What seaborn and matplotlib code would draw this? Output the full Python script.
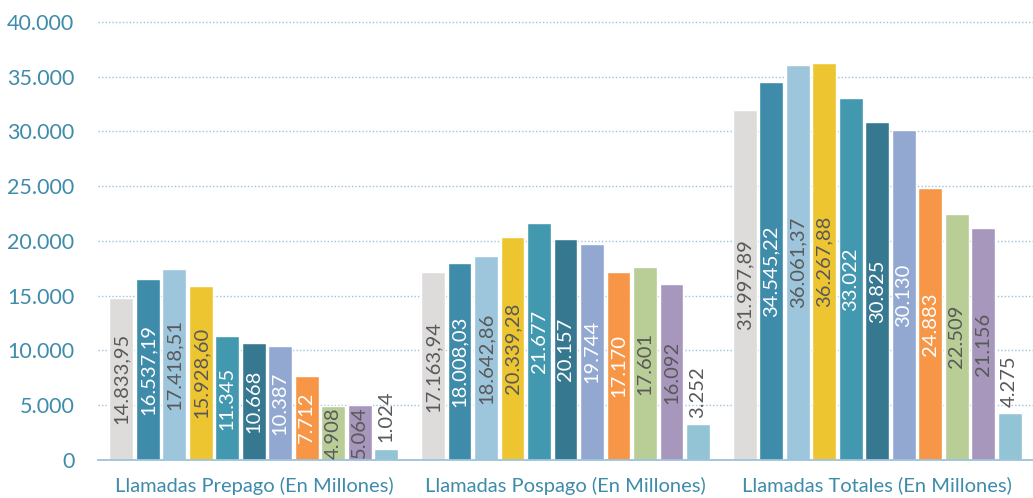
import matplotlib

matplotlib.use("Agg")
import matplotlib.pyplot as plt
import pandas as pd
import seaborn as sns

GROUPS = [
    "Llamadas Prepago (En Millones)",
    "Llamadas Pospago (En Millones)",
    "Llamadas Totales (En Millones)",
]
SERIES = [f"s{i}" for i in range(1, 12)]

prepago = [14833.95, 16537.19, 17418.51, 15928.60, 11345, 10668, 10387, 7712, 4908, 5064, 1024]
pospago = [17163.94, 18008.03, 18642.86, 20339.28, 21677, 20157, 19744, 17170, 17601, 16092, 3252]
totales = [31997.89, 34545.22, 36061.37, 36267.88, 33022, 30825, 30130, 24883, 22509, 21156, 4275]

COLORS = ["#DEDCDB", "#3E8BAA", "#9DC5DC", "#EDC531", "#4298AF", "#377891",
          "#92A8D1", "#F79646", "#B9CD96", "#A797BD", "#92C4D6"]
DARK = "#595959"
LABEL_COLORS = [DARK, "white", DARK, DARK, "white", "white",
                "white", "white", DARK, DARK, DARK]
AXIS_BLUE = "#3E8BAA"
GRID_BLUE = "#9DC3DA"


def fmt(v):
    if v != int(v):
        s = f"{v:,.2f}"
    else:
        s = f"{int(v):,}"
    return s.replace(",", "#").replace(".", ",").replace("#", ".")


def main() -> None:
    rows = []
    for g, vals in zip(GROUPS, [prepago, pospago, totales]):
        for s, v in zip(SERIES, vals):
            rows.append({"grupo": g, "serie": s, "valor": v})
    df = pd.DataFrame(rows)

    sns.set_style("white")
    plt.rcParams["font.family"] = ["Lato", "DejaVu Sans"]

    fig = plt.figure(figsize=(10.33, 4.98), dpi=100)
    ax = fig.add_axes([98 / 1033, 38 / 498, 935 / 1033, 443.5 / 498])

    sns.barplot(data=df, x="grupo", y="valor", hue="serie", order=GROUPS,
                hue_order=SERIES, palette=COLORS, width=0.935, gap=0.1,
                saturation=1, legend=False, ax=ax)

    ax.set_ylim(0, 40500)
    ax.set_xlim(-0.5, 2.473)
    ax.set_yticks(range(0, 40001, 5000))
    ax.set_yticklabels([fmt(t) for t in range(0, 40001, 5000)])
    ax.yaxis.grid(True, linestyle=(0, (1, 1.5)), color=GRID_BLUE, linewidth=1.0)
    ax.set_axisbelow(True)

    for side in ["left", "right", "top"]:
        ax.spines[side].set_visible(False)
    ax.spines["bottom"].set_color(GRID_BLUE)
    ax.spines["bottom"].set_linewidth(1.3)

    ax.tick_params(axis="y", length=0, pad=17, labelsize=15.5, labelcolor=AXIS_BLUE)
    ax.tick_params(axis="x", which="major", length=0, pad=12, labelsize=14.5,
                   labelcolor=AXIS_BLUE)
    ax.set_xticks([-0.5, 0.5, 1.5, 2.5], minor=True)
    ax.tick_params(axis="x", which="minor", length=7, width=1.3, color=GRID_BLUE,
                   direction="out")
    ax.set_xlabel("")
    ax.set_ylabel("")

    for i, cont in enumerate(ax.containers):
        for bar in cont:
            h = bar.get_height()
            x = bar.get_x() + bar.get_width() / 2
            if h < 4500:
                ax.text(x, h + 600, fmt(h), rotation=90, ha="center", va="bottom",
                        fontsize=14.5, color=DARK)
            else:
                ax.text(x, h / 2, fmt(h), rotation=90, ha="center", va="center",
                        fontsize=14.5, color=LABEL_COLORS[i])

    fig.savefig("out.png", dpi=100)
    plt.close(fig)


if __name__ == "__main__":
    main()
